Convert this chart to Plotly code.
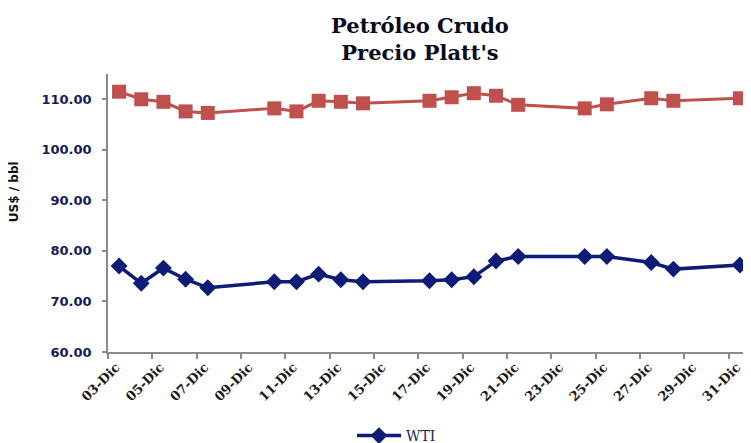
import plotly.graph_objects as go

# ---- data ----
days = [3, 4, 5, 6, 7, 10, 11, 12, 13, 14, 17, 18, 19, 20, 21, 24, 25, 27, 28, 31]
dates = [f"2012-12-{d:02d}" for d in days]
red_series = [111.5, 110.0, 109.5, 107.6, 107.3, 108.2, 107.6, 109.7, 109.5, 109.2,
              109.7, 110.4, 111.2, 110.7, 108.9, 108.2, 109.0, 110.2, 109.7, 110.2]
wti = [77.0, 73.6, 76.6, 74.4, 72.7, 73.9, 73.9, 75.4, 74.3, 73.9,
       74.1, 74.3, 74.9, 78.0, 78.9, 78.9, 78.9, 77.7, 76.4, 77.2]
tick_days = [3, 5, 7, 9, 11, 13, 15, 17, 19, 21, 23, 25, 27, 29, 31]
tick_vals = [f"2012-12-{d:02d}" for d in tick_days]
tick_text = [f"{d:02d}-Dic" for d in tick_days]

RED = "#C0504D"
BLUE = "#0E1C78"

# the page body adds an 8px offset; the figure is sized to fit the window
W, H = 743, 435
OFF = 8

fig = go.Figure()
fig.add_trace(go.Scatter(
    x=dates, y=red_series, name="Brent", showlegend=False, mode="lines+markers",
    xperiod=86400000, xperiodalignment="middle",
    line=dict(color=RED, width=3),
    marker=dict(symbol="square", size=14, color=RED),
))
fig.add_trace(go.Scatter(
    x=dates, y=wti, name="WTI", mode="lines+markers",
    xperiod=86400000, xperiodalignment="middle",
    line=dict(color=BLUE, width=3.5),
    marker=dict(symbol="diamond", size=13, color=BLUE),
))

plot_top = 74 - OFF
plot_bottom = 351.7 - OFF
plot_left = 108 - OFF

fig.update_layout(
    width=W, height=H,
    margin=dict(l=plot_left, r=0, t=plot_top, b=H - plot_bottom),
    paper_bgcolor="white", plot_bgcolor="white",
    title=dict(
        text="Petróleo Crudo<br>Precio Platt's",
        x=(420 - OFF) / W, xref="container", xanchor="center",
        y=1 - 25 / H, yref="container", yanchor="top",
        font=dict(family="DejaVu Serif", size=21, color="#0a0a20", weight="bold"),
    ),
    showlegend=True,
    legend=dict(
        orientation="h", xref="container", yref="container",
        x=(352 - OFF) / W, xanchor="left", y=1 - (436 - OFF) / H, yanchor="middle",
        itemwidth=44,
        font=dict(family="DejaVu Serif", size=14, color="#1a1f5a"),
        bgcolor="rgba(0,0,0,0)",
    ),
    xaxis=dict(
        type="date",
        range=["2012-12-03", "2013-01-01"],
        tickmode="array", tickvals=tick_vals, ticktext=tick_text,
        tickangle=-45,
        tickfont=dict(family="DejaVu Serif", size=13, color="#1a1a1a", weight="bold"),
        ticklabelshift=8, ticklabelstandoff=-4,
        showline=True, linecolor="#8a8a8a", linewidth=1.5,
        ticks="outside", ticklen=5, tickcolor="#8a8a8a", tickwidth=1.5,
        showgrid=False, zeroline=False,
    ),
    yaxis=dict(
        range=[60, 115], tick0=60, dtick=10, tickformat=".2f",
        tickfont=dict(family="DejaVu Sans", size=13, color="#13205a", weight="bold"),
        showline=True, linecolor="#8a8a8a", linewidth=1.5,
        ticks="outside", ticklen=4, tickcolor="#8a8a8a", tickwidth=1.5,
        ticklabelstandoff=8,
        showgrid=False, zeroline=False,
    ),
    annotations=[dict(
        text="US$ / bbl", textangle=-90,
        xref="paper", yref="paper",
        x=(14 - 108) / (W - plot_left), y=(351.7 - 192) / (plot_bottom - plot_top),
        xanchor="center", yanchor="middle", showarrow=False,
        font=dict(family="DejaVu Sans", size=12, color="#111111", weight="bold"),
    )],
)

fig.write_html("out.html")
